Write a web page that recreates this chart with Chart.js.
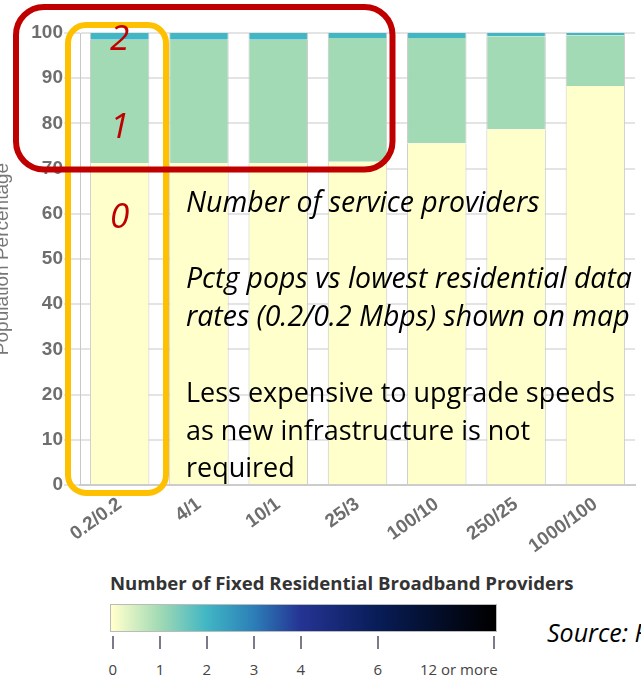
<!DOCTYPE html>
<html>
<head>
<meta charset="utf-8">
<script src="https://cdn.jsdelivr.net/npm/chart.js@4"></script>
<style>
  html, body { margin: 0; padding: 0; background: #fff; }
  body { width: 641px; height: 686px; overflow: hidden; position: relative; font-family: "Open Sans", sans-serif; }
  #wrap { position: absolute; left: -12px; top: 0; width: 653px; height: 560px; }
  #legendTitle { position: absolute; left: 110px; top: 570px; font-weight: bold; font-size: 18.6px; color: #333; white-space: nowrap; }
  #ramp { position: absolute; left: 110px; top: 604px; width: 385px; height: 26px; border: 1px solid #bbb; }
  .tick { position: absolute; top: 636px; width: 1.5px; height: 13px; background: #7a7a8a; }
  .tlab { position: absolute; top: 659px; font-size: 15px; color: #444; white-space: nowrap; }
  #source { position: absolute; left: 547px; top: 615px; font-style: italic; font-size: 25px; color: #000; white-space: nowrap; }
</style>
</head>
<body>
<div id="wrap"><canvas id="myChart" width="653" height="560"></canvas></div>
<div id="legendTitle">Number of Fixed Residential Broadband Providers</div>
<div id="ramp"></div>
<div id="source">Source: FCC</div>
<script>
  // Data
  const speeds = ['0.2/0.2', '4/1', '10/1', '25/3', '100/10', '250/25', '1000/100'];
  const zeroProviders = [71.2, 71.2, 71.2, 71.5, 75.6, 78.7, 88.3];
  const oneProvider = [27.3, 27.3, 27.3, 27.4, 23.3, 20.6, 11.2];
  const twoProviders = [1.5, 1.5, 1.5, 1.1, 1.1, 0.7, 0.5];

  // Colour legend
  const legendLabels = ['0', '1', '2', '3', '4', '6', '12 or more'];
  const legendColors = ['#ffffcc', '#a1dab4', '#41b6c4', '#2c7fb8', '#253494', '#081d58', '#000000'];
  const legendStops = [0.005, 0.127, 0.248, 0.37, 0.491, 0.69, 0.99];

  // Build the colour ramp
  const ramp = document.getElementById('ramp');
  const stops = legendColors.map((c, i) => `${c} ${(legendStops[i] * 100).toFixed(1)}%`);
  ramp.style.background = `linear-gradient(to right, ${stops.join(', ')})`;
  legendLabels.forEach((lab, i) => {
    const x = 111 + legendStops[i] * 387;
    const t = document.createElement('div');
    t.className = 'tick';
    t.style.left = (x - 0.75) + 'px';
    document.body.appendChild(t);
    const l = document.createElement('div');
    l.className = 'tlab';
    l.textContent = lab;
    document.body.appendChild(l);
    if (i === legendLabels.length - 1) {
      l.style.left = (498 - l.offsetWidth) + 'px';
    } else {
      l.style.left = (x - l.offsetWidth / 2) + 'px';
    }
  });

  // Overlay notes drawn on top of the chart
  function fitSize(ctx, style, text, width) {
    ctx.font = `${style} 20px "Open Sans"`;
    return 20 * width / ctx.measureText(text).width;
  }

  const notes = {
    id: 'notes',
    afterDraw(chart) {
      const ctx = chart.ctx;
      ctx.save();
      ctx.translate(12, 0);

      ctx.lineWidth = 6;
      ctx.strokeStyle = '#ffc000';
      ctx.beginPath();
      ctx.roundRect(68, 25, 98, 468, 18);
      ctx.stroke();

      ctx.strokeStyle = '#c00000';
      ctx.beginPath();
      ctx.roundRect(16, 7, 376.5, 162.5, 28);
      ctx.stroke();

      // provider counts on the first bar
      const cx = chart.scales.x.getPixelForValue(0) - 12;
      ctx.fillStyle = '#c00000';
      ctx.font = 'italic 35px "Open Sans"';
      ctx.textAlign = 'center';
      ctx.textBaseline = 'alphabetic';
      ctx.fillText('2', cx, 50);
      ctx.fillText('1', cx, 138);
      ctx.fillText('0', cx, 228);

      ctx.fillStyle = '#000';
      ctx.textAlign = 'left';
      const it = fitSize(ctx, 'italic', 'Pctg pops vs lowest residential data', 446);
      const nm = fitSize(ctx, 'normal', 'Less expensive to upgrade speeds', 429);
      ctx.font = `italic ${it}px "Open Sans"`;
      ctx.fillText('Number of service providers', 186, 212);
      ctx.fillText('Pctg pops vs lowest residential data', 186, 288);
      ctx.fillText('rates (0.2/0.2 Mbps) shown on map', 186, 326);
      ctx.font = `normal ${nm}px "Open Sans"`;
      ctx.fillText('Less expensive to upgrade speeds', 186, 402);
      ctx.fillText('as new infrastructure is not', 186, 440);
      ctx.fillText('required', 186, 477);
      ctx.restore();
    }
  };

  const ctx = document.getElementById('myChart');
  const barBorder = { left: 1, right: 1, top: 0, bottom: 0 };

  const config = {
    type: 'bar',
    data: {
      labels: speeds,
      datasets: [
        { label: '0', data: zeroProviders, backgroundColor: '#ffffcc', borderColor: '#c9c9c9', borderWidth: barBorder },
        { label: '1', data: oneProvider, backgroundColor: '#a1dab4', borderColor: '#c9c9c9', borderWidth: barBorder },
        { label: '2', data: twoProviders, backgroundColor: '#41b6c4', borderColor: '#c9c9c9', borderWidth: barBorder },
      ]
    },
    options: {
      responsive: false,
      animation: false,
      barPercentage: 0.75,
      categoryPercentage: 1,
      layout: { padding: { top: 33, right: 6, left: 0, bottom: 0 } },
      plugins: {
        legend: { display: false },
        tooltip: { enabled: false }
      },
      scales: {
        x: {
          stacked: true,
          afterFit: (scale) => { scale.height = 75; },
          grid: {
            drawTicks: false,
            lineWidth: 1,
            color: (c) => (c.index === speeds.length ? '#cccccc' : 'rgba(0,0,0,0)')
          },
          border: { color: '#cccccc', width: 2 },
          ticks: {
            color: '#6e6e6e',
            font: { family: 'Liberation Sans', size: 19, weight: 'bold' },
            minRotation: 36,
            maxRotation: 36,
            padding: 8
          }
        },
        y: {
          stacked: true,
          min: 0,
          max: 100,
          afterFit: (scale) => { scale.width = 92; },
          grid: { color: '#e4e4e4', lineWidth: 2, tickLength: 16 },
          border: { color: '#c8c8c8', width: 1 },
          ticks: {
            stepSize: 10,
            color: '#6e6e6e',
            padding: 1,
            font: { family: 'Liberation Sans', size: 19, weight: 'bold' }
          },
          title: {
            display: true,
            text: 'Population Percentage',
            color: '#777',
            font: { family: 'Liberation Sans', size: 19 },
            padding: { top: 3, bottom: 0 }
          }
        }
      }
    },
    plugins: [notes]
  };

  const myChart = new Chart(ctx, config);
</script>
</body>
</html>
